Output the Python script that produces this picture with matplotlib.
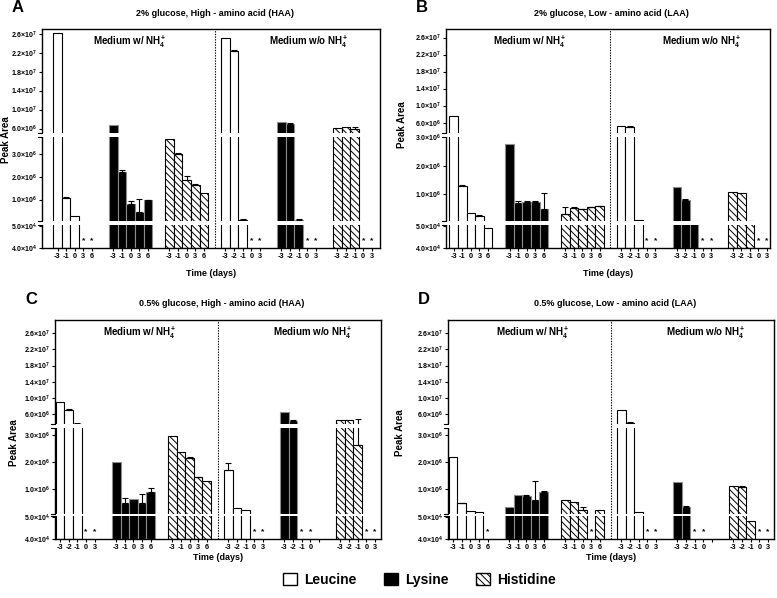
import numpy as np
import matplotlib
matplotlib.use("Agg")
import matplotlib.pyplot as plt
from matplotlib.patches import Patch, Rectangle

plt.rcParams['font.family'] = ['Liberation Sans', 'DejaVu Sans']
plt.rcParams['font.weight'] = 'bold'
plt.rcParams['mathtext.fontset'] = 'custom'
plt.rcParams['mathtext.rm'] = 'Liberation Sans:bold'
plt.rcParams['mathtext.it'] = 'Liberation Sans:bold'
plt.rcParams['mathtext.bf'] = 'Liberation Sans:bold'
plt.rcParams['hatch.linewidth'] = 0.7

nan = np.nan

# amino acid of each group (w/ NH4+ then w/o NH4+)
amino = ['Leucine', 'Lysine', 'Histidine', 'Leucine', 'Lysine', 'Histidine']

# day labels of each group
days_A = [[-3, -1, 0, 3, 6]] * 3 + [[-3, -2, -1, 0, 3]] * 3
days_B = days_A
days_C = [[-3, -2, -1, 0, 3], [-3, -1, 0, 3, 6], [-3, -1, 0, 3, 6],
          [-3, -2, -1, 0, 3], [-3, -2, -1, 0, ''], [-3, -2, -1, 0, 3]]
days_D = [[-3, -1, 0, 3, 6], [-3, -1, 0, 3, 6], [-3, -1, 0, 3, 6],
          [-3, -2, -1, 0, 3], [-3, -2, -1, 0, ''], [-3, -2, -1, 0, 3]]

# peak areas (nan = not detected, marked *)
vals_A = [[2.62e7, 1.09e6, 0.27e6, nan, nan],
          [6.8e6, 2.2e6, 0.8e6, 0.46e6, 0.97e6],
          [3.65e6, 3.03e6, 1.84e6, 1.62e6, 1.28e6],
          [2.5e7, 2.24e7, 0.1e6, nan, nan],
          [7.3e6, 6.9e6, 0.1e6, nan, nan],
          [6.05e6, 6.4e6, 5.95e6, nan, nan]]
errs_A = [[0, 0.03e6, 0, 0, 0],
          [0, 0.1e6, 0.12e6, 0.55e6, 0.03e6],
          [0, 0.04e6, 0.22e6, 0.05e6, 0],
          [0, 0.25e6, 0.02e6, 0, 0],
          [0, 0.3e6, 0.02e6, 0, 0],
          [0, 0, 0.3e6, 0, 0]]

vals_B = [[7.6e6, 1.28e6, 0.33e6, 0.24e6, 4.9e4],
          [2.77e6, 0.7e6, 0.72e6, 0.71e6, 0.48e6],
          [0.3e6, 0.51e6, 0.48e6, 0.53e6, 0.57e6],
          [5.1e6, 4.9e6, 0.09e6, nan, nan],
          [1.25e6, 0.8e6, 0.07e6, nan, nan],
          [1.09e6, 1.04e6, 0.07e6, nan, nan]]
errs_B = [[0, 0.04e6, 0, 0.03e6, 0],
          [0, 0.05e6, 0.05e6, 0.04e6, 0.55e6],
          [0.25e6, 0.02e6, 0.01e6, 0.02e6, 0.01e6],
          [0, 0.3e6, 0, 0, 0],
          [0, 0.03e6, 0, 0, 0],
          [0, 0, 0, 0, 0]]

vals_C = [[8.9e6, 7.1e6, 3.6e6, nan, nan],
          [2.0e6, 0.46e6, 0.62e6, 0.46e6, 0.89e6],
          [2.96e6, 2.38e6, 2.14e6, 1.43e6, 1.29e6],
          [1.7e6, 0.29e6, 0.22e6, nan, nan],
          [6.4e6, 4.2e6, nan, nan, nan],
          [4.6e6, 4.6e6, 2.65e6, nan, nan]]
errs_C = [[0, 0.2e6, 0.15e6, 0, 0],
          [0, 0.19e6, 0, 0.34e6, 0.15e6],
          [0, 0, 0.03e6, 0.02e6, 0],
          [0.28e6, 0, 0, 0, 0],
          [0, 0.4e6, 0, 0, 0],
          [0, 0, 2.0e6, 0, 0]]

vals_D = [[2.19e6, 0.45e6, 0.15e6, 0.11e6, nan],
          [0.3e6, 0.78e6, 0.72e6, 0.58e6, 0.88e6],
          [0.56e6, 0.51e6, 0.2e6, nan, 0.22e6],
          [7.1e6, 3.8e6, 0.12e6, nan, nan],
          [1.24e6, 0.32e6, nan, nan, nan],
          [1.09e6, 1.07e6, 4.8e4, nan, nan]]
errs_D = [[0, 0.02e6, 0, 0, 0],
          [0, 0, 0.06e6, 0.7e6, 0.04e6],
          [0, 0, 0.11e6, 0, 0],
          [0, 0.2e6, 0, 0, 0],
          [0, 0.03e6, 0, 0, 0],
          [0, 0.03e6, 0, 0, 0]]

titles = ['2% glucose, High - amino acid (HAA)', '2% glucose, Low - amino acid (LAA)',
          '0.5% glucose, High - amino acid (HAA)', '0.5% glucose, Low - amino acid (LAA)']
letters = ['A', 'B', 'C', 'D']

ytick_vals = [4e4, 5e4, 1e6, 2e6, 3e6, 6e6, 1e7, 1.4e7, 1.8e7, 2.2e7, 2.6e7]
ytick_labels = ['4.0×10$^4$', '5.0×10$^4$', '1.0×10$^6$', '2.0×10$^6$', '3.0×10$^6$',
                '6.0×10$^6$', '1.0×10$^7$', '1.4×10$^7$', '1.8×10$^7$', '2.2×10$^7$',
                '2.6×10$^7$']

# broken y axis: value knots -> axes fraction knots
knots_A = ([4e4, 5.05e4, 5.1e4, 3.75e6, 5.0e6, 2.7e7], [0, 0.104, 0.123, 0.506, 0.524, 1.0])
knots_B = ([4e4, 5.05e4, 5.1e4, 3.0e6, 3.5e6, 2.8e7], [0, 0.104, 0.123, 0.506, 0.524, 1.0])
knots_C = ([4e4, 5.05e4, 5.1e4, 3.26e6, 3.4e6, 2.93e7], [0, 0.105, 0.114, 0.505, 0.523, 1.0])
knots_D = knots_C

W, H = 777, 598
# axes boxes in pixels: left, top, right, bottom
boxes = [(42, 29, 380, 248), (446, 29, 770, 248), (55, 320, 381, 539), (448, 320, 774, 539)]
xlims = [(-1.8, 37.45), (-0.9, 36.85), (-0.6, 37.2), (-0.6, 37.2)]
ylab_pos = [(6, 140), (402, 125), (14, 443), (400, 433)]
divider = 18.25

styles = {'Leucine': dict(facecolor='white', edgecolor='black', hatch=None),
          'Lysine': dict(facecolor='black', edgecolor='0.55', hatch=None),
          'Histidine': dict(facecolor='white', edgecolor='black', hatch='\\\\\\\\\\')}

fig = plt.figure(figsize=(W / 100, H / 100), dpi=100)

panels = [(days_A, vals_A, errs_A, knots_A), (days_B, vals_B, errs_B, knots_B),
          (days_C, vals_C, errs_C, knots_C), (days_D, vals_D, errs_D, knots_D)]

for p, (days, vals, errs, knots) in enumerate(panels):
    l, t, r, b = boxes[p]
    ax = fig.add_axes([l / W, 1 - b / H, (r - l) / W, (b - t) / H])
    kv, kf = knots
    ax.set_yscale('function', functions=(lambda v, kv=kv, kf=kf: np.interp(v, kv, kf),
                                         lambda f, kv=kv, kf=kf: np.interp(f, kf, kv)))

    xticks, xlabels = [], []
    for g in range(6):
        x = g * 6.5 + np.arange(5)
        v = np.array(vals[g], dtype=float)
        e = np.array(errs[g], dtype=float)
        st = styles[amino[g]]
        ok = ~np.isnan(v)
        ax.bar(x[ok], v[ok] - 4e4, bottom=4e4, width=1.0, facecolor=st['facecolor'],
               edgecolor=st['edgecolor'], hatch=st['hatch'], linewidth=0.8, zorder=2)
        has_err = ok & (e > 0)
        if has_err.any():
            ax.errorbar(x[has_err], v[has_err], yerr=[np.zeros(has_err.sum()), e[has_err]],
                        fmt='none', ecolor='black', elinewidth=0.8, capsize=2, capthick=0.8,
                        zorder=2.5)
        for i in range(5):
            if np.isnan(v[i]) and days[g][i] != '':
                ax.text(x[i], 4.35e4, '*', ha='center', va='center', fontsize=6)
            xticks.append(x[i])
            xlabels.append(str(days[g][i]))

    ax.set_xlim(*xlims[p])
    ax.set_ylim(4e4, kv[-1])
    ax.set_xticks(xticks, xlabels, fontsize=5.3)
    ax.set_yticks(ytick_vals, ytick_labels, fontsize=5.0)
    ax.tick_params(axis='both', length=2, width=0.8, pad=1.5)
    for s in ax.spines.values():
        s.set_linewidth(1.0)

    # white gaps for the axis breaks
    for f0, f1 in [(kf[1], kf[2]), (kf[3], kf[4])]:
        ax.add_patch(Rectangle((-0.02, f0), 1.015, f1 - f0, transform=ax.transAxes,
                               facecolor='white', edgecolor='none', zorder=5, clip_on=False))
        for f in (f0, f1):
            ax.plot([-0.012, 0], [f, f], transform=ax.transAxes, color='black', lw=0.8,
                    zorder=6, clip_on=False)

    ax.axvline(divider, ls=(0, (1.2, 1.2)), color='black', lw=0.8, zorder=6)

    ax.text(0.26, 0.94, 'Medium w/ NH$_4^+$', transform=ax.transAxes, ha='center',
            va='center', fontsize=7)
    ax.text(0.79, 0.94, 'Medium w/o NH$_4^+$', transform=ax.transAxes, ha='center',
            va='center', fontsize=7)

    cx = (l + r) / 2 / W
    fig.text(cx + 0.005, 1 - (t - 16) / H, titles[p], ha='center', va='center', fontsize=6.5)
    fig.text(cx, 1 - (b + (25 if p < 2 else 18)) / H, 'Time (days)', ha='center',
             va='center', fontsize=6.5)
    fig.text(ylab_pos[p][0] / W, 1 - ylab_pos[p][1] / H, 'Peak Area', ha='center',
             va='center', rotation=90, fontsize=7)
    fig.text((l - 24) / W, 1 - (t - 21) / H, letters[p], ha='center', va='center', fontsize=12)

handles = [Patch(facecolor=styles[a]['facecolor'], edgecolor='black', hatch=styles[a]['hatch'],
                 linewidth=1.0, label=a) for a in ['Leucine', 'Lysine', 'Histidine']]
fig.legend(handles=handles, loc='center', bbox_to_anchor=(419.5 / W, 1 - 580 / H), ncol=3,
           frameon=False, prop={'size': 10, 'weight': 'bold'}, handlelength=1.0,
           handleheight=1.0, columnspacing=2.0, handletextpad=0.5)

fig.savefig('out.png', dpi=100)
